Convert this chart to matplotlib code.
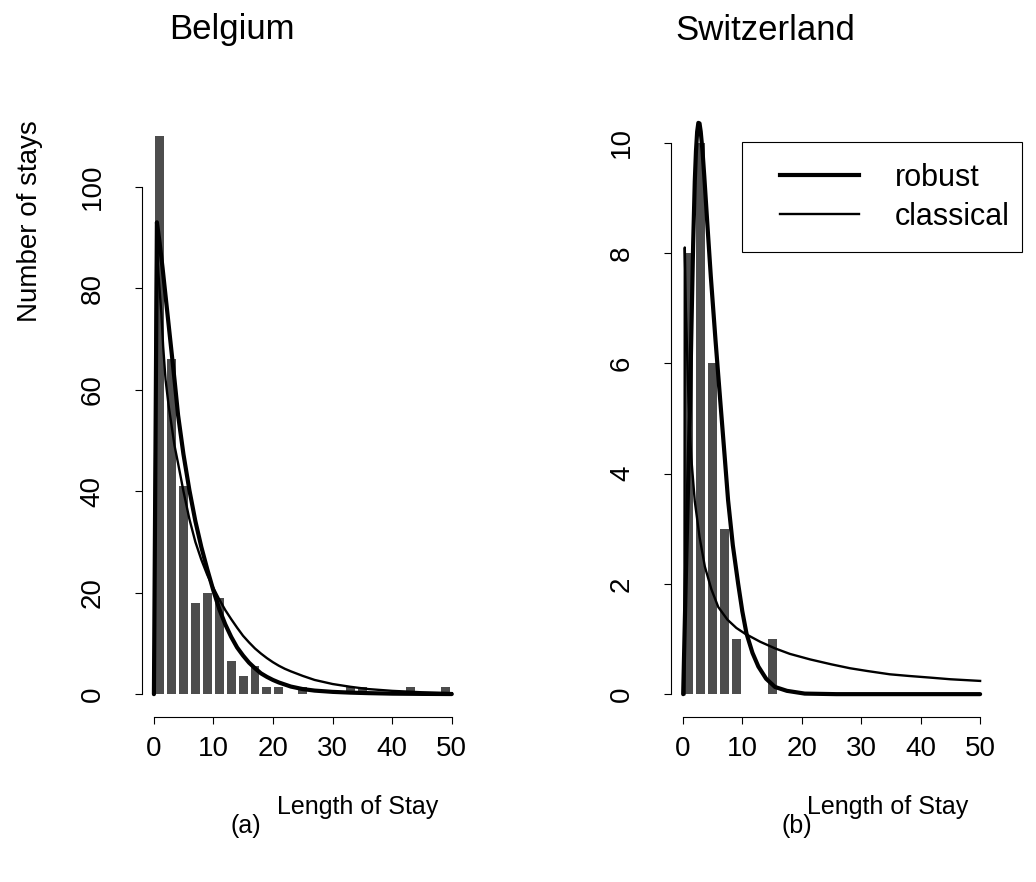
import numpy as np
import matplotlib.pyplot as plt
from matplotlib.lines import Line2D
from matplotlib.patches import Rectangle

plt.rcParams['font.family'] = ['Liberation Sans', 'DejaVu Sans']

# histogram bins (width 2) and bar heights
bin_left = np.arange(0, 50, 2)
belgium_counts = [110, 66, 41, 18, 20, 19, 6.5, 3.5, 5.5, 1.5, 1.5, 0, 1.5, 0,
                  0, 0, 1.5, 1.5, 0, 0, 0, 1.5, 0, 0, 1.5]
swiss_counts = [8, 10, 6, 3, 1, 0, 0, 1] + [0] * 17

# fitted curves (robust = thick, classical = thin)
be_rob_x = [0.05, 0.55, 1.0, 1.5, 2.0, 2.5, 3.0, 3.5, 4.1, 5.0, 6.0, 7.0, 8.0,
            9.0, 10, 11, 12, 13, 14, 15, 16, 17, 18, 19, 20, 21, 22, 23, 25,
            27, 30, 33, 36, 40, 45, 50]
be_rob_y = [0, 93, 89, 84, 78.5, 73, 67.5, 62, 55, 47.3, 40.2, 34.1, 29, 24.6,
            20.5, 16.8, 13.8, 11.3, 9.2, 7.6, 6.2, 5.1, 4.1, 3.4, 2.8, 2.3,
            1.9, 1.5, 1.0, 0.7, 0.45, 0.3, 0.2, 0.1, 0.05, 0.02]
be_cls_x = [0.05, 0.45, 0.8, 1.3, 1.6, 2.0, 2.5, 3.0, 3.5, 4.1, 5, 6, 7, 8, 9,
            10, 11, 12, 13, 14, 15, 16, 17, 18, 19, 20, 21, 22, 23, 25, 27, 30,
            33, 36, 40, 45, 50]
be_cls_y = [0, 90, 83, 75, 68.5, 62, 57, 53, 49, 45.5, 40, 34.5, 30, 26.5,
            23.5, 21, 18.7, 16.6, 14.8, 13.1, 11.5, 10.2, 9.0, 8.0, 7.1, 6.3,
            5.6, 5.0, 4.5, 3.6, 2.8, 2.0, 1.45, 1.0, 0.65, 0.37, 0.2]

sw_rob_x = [0.05, 0.3, 0.6, 0.9, 1.18, 1.45, 1.73, 2.0, 2.2, 2.4, 2.6, 2.8,
            3.0, 3.3, 3.6, 4.1, 4.7, 5.5, 6.3, 7.0, 7.6, 8.4, 9.3, 10.0, 10.7,
            11.7, 12.7, 14, 15.5, 17.5, 20.5, 25.8, 50]
sw_rob_y = [0, 1.2, 2.6, 3.9, 5.15, 6.7, 8.18, 9.3, 9.85, 10.2, 10.36, 10.35,
            10.2, 9.85, 9.39, 8.55, 7.57, 6.4, 5.3, 4.35, 3.52, 2.7, 2.0, 1.5,
            1.1, 0.75, 0.5, 0.28, 0.13, 0.06, 0.01, 0, 0]
sw_cls_x = [0.25, 0.32, 0.5, 0.95, 1.4, 2.0, 2.8, 3.7, 4.8, 5.95, 7.5, 9,
            10.4, 13, 15.5, 18, 21.4, 25, 28.1, 31, 34.8, 38, 41.6, 45, 50]
sw_cls_y = [0, 8.1, 7.0, 5.3, 4.3, 3.5, 2.85, 2.31, 1.9, 1.58, 1.35, 1.2,
            1.1, 0.95, 0.83, 0.73, 0.63, 0.54, 0.47, 0.42, 0.36, 0.33, 0.30,
            0.27, 0.24]

x_ticks = [0, 10, 20, 30, 40, 50]
be_yticks = [0, 20, 40, 60, 80, 100]
sw_yticks = [0, 2, 4, 6, 8, 10]

BAR_COL = '#4d4d4d'
W, H = 1036, 882

fig = plt.figure(figsize=(W / 100, H / 100), dpi=100)
ax1 = fig.add_axes([141.7 / W, 1 - 717 / H, 322 / W, 617 / H])
ax2 = fig.add_axes([671 / W, 1 - 717 / H, 321 / W, 617 / H])


def panel(ax, counts, rob, cls, yticks, ymax):
    centers = bin_left + 1
    ax.bar(centers, counts, width=1.5, color=BAR_COL, linewidth=0)
    ax.plot(rob[0], rob[1], color='black', lw=3.0, solid_capstyle='round',
            solid_joinstyle='round')
    ax.plot(cls[0], cls[1], color='black', lw=1.7, solid_joinstyle='round')
    ax.set_xlim(-2, 52)
    ax.set_ylim(-0.04 * ymax, 1.04 * ymax)
    for s in ['top', 'right']:
        ax.spines[s].set_visible(False)
    ax.spines['left'].set_bounds(yticks[0], yticks[-1])
    ax.spines['bottom'].set_bounds(0, 50)
    for s in ['left', 'bottom']:
        ax.spines[s].set_linewidth(0.8)
    ax.set_xticks(x_ticks)
    ax.set_yticks(yticks)
    ax.set_yticklabels([str(t) for t in yticks], rotation=90, va='center')
    ax.tick_params(direction='out', length=5, width=0.8, labelsize=20)
    ax.tick_params(axis='x', pad=9)
    ax.tick_params(axis='y', pad=21)


panel(ax1, belgium_counts, (be_rob_x, be_rob_y), (be_cls_x, be_cls_y),
      be_yticks, 112.6)
panel(ax2, swiss_counts, (sw_rob_x, sw_rob_y), (sw_cls_x, sw_cls_y),
      sw_yticks, 10.36)

# legend: R-style box, drawn separately from the entries
fig.add_artist(Rectangle((742 / W, 1 - 252 / H), 280 / W, 110 / H,
                         transform=fig.transFigure, fill=False,
                         edgecolor='black', lw=0.8, clip_on=False))
handles = [Line2D([], [], color='black', lw=3.0),
           Line2D([], [], color='black', lw=1.7)]
ax2.legend(handles, ['robust', 'classical'], loc='upper left',
           bbox_to_anchor=(780 / W, 1 - 163 / H),
           bbox_transform=fig.transFigure, fontsize=22, frameon=False,
           borderaxespad=0, borderpad=0, handlelength=2.6,
           handletextpad=1.15, labelspacing=0.3)

fig.text(232 / W, 1 - 30 / H, 'Belgium', fontsize=25, ha='center', va='center')
fig.text(765 / W, 1 - 30 / H, 'Switzerland', fontsize=25, ha='center', va='center')
fig.text(30 / W, 1 - 221 / H, 'Number of stays', fontsize=20, rotation=90,
         ha='center', va='center')
fig.text(358 / W, 1 - 807 / H, 'Length of Stay', fontsize=18, ha='center', va='center')
fig.text(246 / W, 1 - 826 / H, '(a)', fontsize=18, ha='center', va='center')
fig.text(888 / W, 1 - 807 / H, 'Length of Stay', fontsize=18, ha='center', va='center')
fig.text(797 / W, 1 - 826 / H, '(b)', fontsize=18, ha='center', va='center')

fig.savefig('out.png', dpi=100)
